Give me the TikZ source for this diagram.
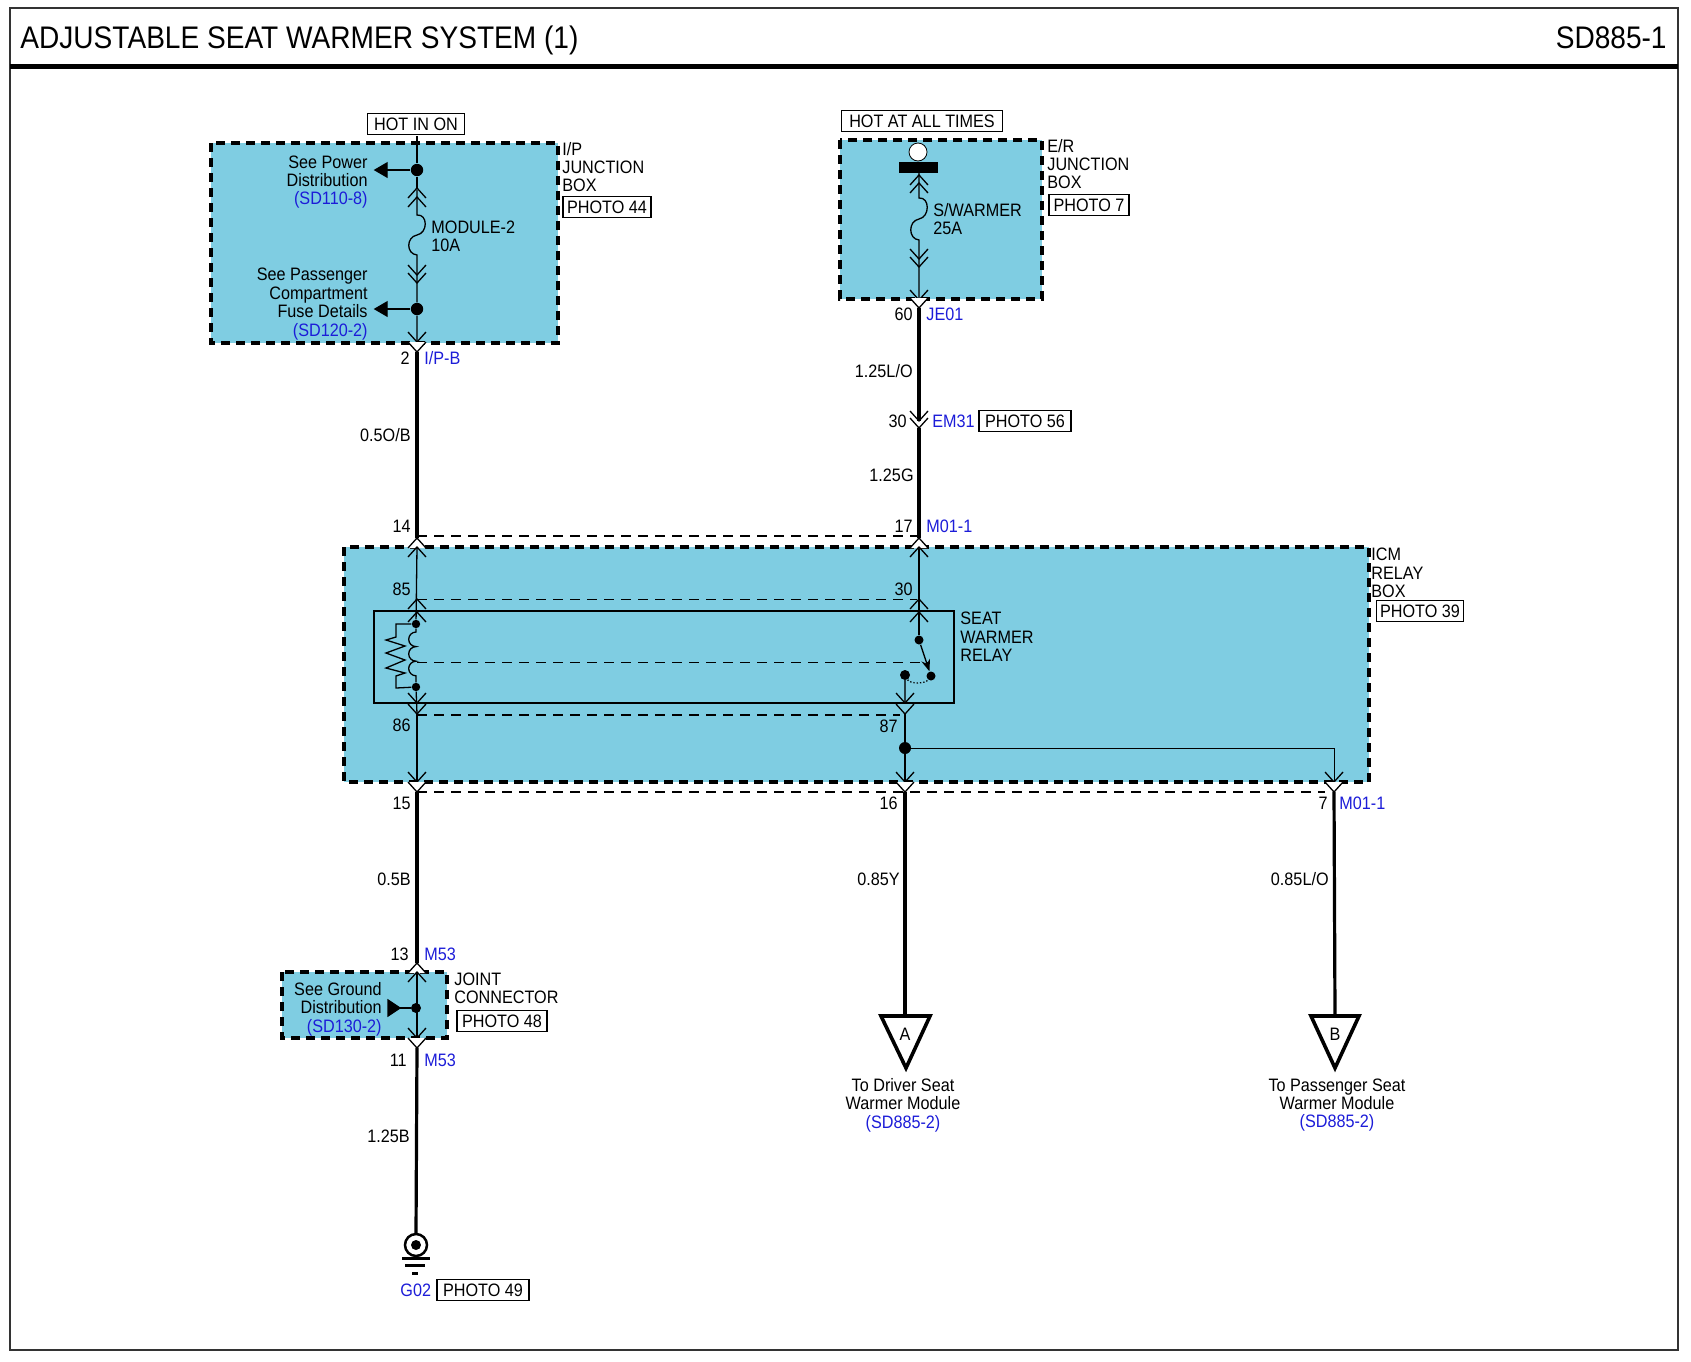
\documentclass[tikz,border=0pt]{standalone}
\usepackage{fontspec}
\setmainfont[FakeStretch=0.9]{Liberation Sans}
\usetikzlibrary{arrows.meta}
\definecolor{boxblue}{HTML}{7FCDE2}
\definecolor{refblue}{HTML}{1C1CD8}
\tikzset{
	wirethin/.style={line width=0.65pt},
	wiremid/.style={line width=1.4pt},
	wirethick/.style={line width=1.6pt},
	wirefat/.style={line width=2.3pt},
	boxdash/.style={fill=boxblue,line width=1.6pt,dash pattern=on 4.5pt off 3pt},
	shieldline/.style={line width=0.7pt,dash pattern=on 5pt off 3.5pt},
	shieldin/.style={line width=0.5pt,dash pattern=on 5pt off 3.5pt},
	lbl/.style={inner sep=0pt,yshift=-0.5pt,font=\fontsize{9}{9.2}\selectfont},
	tagbox/.style={inner sep=0pt,font=\fontsize{9}{9.2}\selectfont,draw,line width=0.7pt,minimum height=10.5pt},
	dotn/.style={circle,fill=black,inner sep=0pt,minimum size=6.2pt}
}
% chevrons of a connector: x, y of the tip
\newcommand{\chevdn}[3][none]{\draw[wirethin,fill=#1] (#2-9,#3-10) -- (#2,#3) -- (#2+9,#3-10);}
\newcommand{\chevup}[3][none]{\draw[wirethin,fill=#1] (#2-9,#3+10) -- (#2,#3) -- (#2+9,#3+10);}
\begin{document}
\begin{tikzpicture}[>=Stealth,x=0.5pt,y=-0.5pt]
	\useasboundingbox (0,0) rectangle (1691,1361);
	% frame and title
	\draw[line width=1pt,black!80] (10,8) rectangle (1678,1350);
	\draw[line width=2.5pt] (10,66) -- (1678,66);
	\node[lbl,font=\fontsize{15.6}{18}\selectfont,anchor=mid west] (title) at (20,42) {ADJUSTABLE SEAT WARMER SYSTEM (1)};
	\node[lbl,font=\fontsize{15.6}{18}\selectfont,anchor=mid east] (sheet) at (1667,42) {SD885-1};
	% blue boxes
	\draw[boxdash] (211,143) rectangle (558,343);
	\draw[boxdash] (840,140) rectangle (1042,299);
	\draw[boxdash] (344,547) rectangle (1369,782);
	\draw[boxdash] (282,972) rectangle (447,1038);
	\draw[line width=1.4pt] (374,611) rectangle (954,703);
	% dashed shields
	\draw[shieldline] (417,536) -- (917,536);
	\draw[shieldin] (417,599) -- (917,599);
	\draw[shieldin] (417,662) -- (928,662);
	\draw[shieldline] (417,715) -- (900,715);
	\draw[shieldline] (417,792) -- (1325,792);
	% points of the wires
	\coordinate (ipTop) at (417,136);
	\coordinate (ipFuseA) at (417,215);
	\coordinate (ipFuseB) at (417,255);
	\coordinate (ipEnd) at (417,342);
	\coordinate (ipOut) at (417,352);
	\coordinate (w14) at (417,538);
	\coordinate (w14b) at (417,547);
	\coordinate (w86) at (417,714);
	\coordinate (w15) at (417,782);
	\coordinate (w15b) at (417,792);
	\coordinate (w13) at (417,963);
	\coordinate (w13b) at (417,972);
	\coordinate (w11) at (417,1038);
	\coordinate (w11b) at (417,1048);
	\coordinate (erTop) at (919,173);
	\coordinate (erFuseA) at (919,198);
	\coordinate (erFuseB) at (919,240);
	\coordinate (erEnd) at (919,299);
	\coordinate (erOut) at (919,308);
	\coordinate (em31a) at (919,421);
	\coordinate (em31b) at (919,428);
	\coordinate (w17) at (919,538);
	\coordinate (w17b) at (919,547);
	\coordinate (w87) at (905,703);
	\coordinate (w87b) at (905,714);
	\coordinate (w16) at (905,782);
	\coordinate (w16b) at (905,792);
	\coordinate (w7) at (1334,782);
	\coordinate (w7b) at (1334,792);
	\coordinate (w7c) at (1334,748);
	\coordinate (triA) at (905,1016);
	\coordinate (triB) at (1335,1016);
	\coordinate (gnd) at (416,1234);
	% dots
	\node[dotn] (dPow) at (417,170) {};
	\node[dotn] (dFuse) at (417,309) {};
	\node[dotn,minimum size=4.2pt] (dCoilA) at (416,624) {};
	\node[dotn,minimum size=4.2pt] (dCoilB) at (416,687) {};
	\node[dotn,minimum size=4.5pt] (dSwA) at (919,640) {};
	\node[dotn,minimum size=4.5pt] (dSwB) at (931,676) {};
	\node[dotn,minimum size=5pt] (dSwC) at (905,675) {};
	\node[dotn,minimum size=6pt] (dSplit) at (905,748) {};
	\node[dotn,minimum size=5pt] (dGnd) at (416,1008) {};
	% thin wires
	\draw[wirethin] (ipTop) -- (dPow) -- (417,188);
	\draw[wirethin] (417,190) -- (ipFuseA) .. controls (428,214) and (428,233) .. (417,235) .. controls (406,237) and (406,254) .. (ipFuseB) -- (417,283) -- (dFuse) -- (ipEnd);
	\draw[wirethin] (erTop) -- (erFuseA) .. controls (930,197) and (930,217) .. (919,219) .. controls (908,221) and (908,239) .. (erFuseB) -- (erEnd);
	\draw[wirethin] (w14b) -- (dCoilA);
	\draw[wirethin] (dCoilB) -- (w86);
	\draw[wirethin] (w86) -- (w15);
	\draw[wirethin] (w17b) -- (dSwA);
	\draw[line width=0.5pt] (dSplit) -- (w7c) -- (w7);
	\draw[wirethin] (w13b) -- (w11);
	% coil and resistor of the relay
	\draw[wirethin] (dCoilA) -- (416,632) arc[start angle=-90,end angle=-270,radius=7.3] arc[start angle=-90,end angle=-270,radius=7.3] arc[start angle=-90,end angle=-270,radius=7.3] -- (dCoilB);
	\draw[wirethin] (dCoilA) -- (396,624) -- (396,637) -- (386,640) -- (405,646) -- (386,653) -- (405,660) -- (386,668) -- (405,673) -- (396,676) -- (396,688) -- (dCoilB);
	\draw[wirethin,->] (dSwA) -- (dSwB);
	\draw[wirethin,densely dotted] (dSwC) .. controls (910,684) and (925,684) .. (dSwB);
	\draw[wiremid,black!70!boxblue] (dSwC) -- (w87);
	\draw[wiremid] (w87b) -- (dSplit) -- (w16);
	% harness wires
	\draw[wirethick] (ipOut) -- (w14);
	\draw[wirethick] (erOut) -- (em31a);
	\draw[wirethick] (em31b) -- (w17);
	\draw[wirethick] (w15b) -- (w13);
	\draw[wirethick] (w11b) -- (gnd);
	\draw[wirefat] (w16b) -- (triA);
	\draw[wirethick] (w7b) -- (triB);
	% chevrons
	\foreach \a/\b in {417/188,417/197,919/175,919/183,417/612,919/612,417/599,919/599}
		{\chevup{\a}{\b}}
	\foreach \a/\b in {417/275,417/283,919/259,919/267,417/703,905/703,417/714,905/714,417/342,919/300,417/782,905/782,1334/782,417/1038,919/421,919/428}
		{\chevdn{\a}{\b}}
	\foreach \a/\b in {417/352,919/308,417/792,905/792,1334/792,417/1048}
		{\chevdn[white]{\a}{\b}}
	\foreach \a/\b in {417/538,919/538,417/963}
		{\chevup[white]{\a}{\b}}
	\foreach \a/\b in {417/547,919/547,417/972}
		{\chevup{\a}{\b}}
	% arrows to other sheets
	\draw[wirethin,fill=black] (375,170) -- (387,163) -- (387,177) -- cycle;
	\draw[wirethin] (387,170) -- (dPow);
	\draw[wirethin,fill=black] (375,309) -- (387,302) -- (387,316) -- cycle;
	\draw[wirethin] (387,309) -- (dFuse);
	\draw[wirethin,fill=black] (400,1008) -- (388,1000) -- (388,1016) -- cycle;
	\draw[wiremid] (400,1008) -- (dGnd);
	% fuse holder of the E/R box
	\draw[fill=white,line width=0.4pt] (918,152) circle[radius=9];
	\fill (899,162) rectangle (938,173);
	% triangles
	\draw[line width=1.8pt,line join=miter] (881,1016) -- (930,1016) -- (906,1068) -- cycle;
	\draw[line width=1.8pt,line join=miter] (1311,1016) -- (1359,1016) -- (1335,1068) -- cycle;
	\node[lbl] (letA) at (905,1033) {A};
	\node[lbl] (letB) at (1335,1033) {B};
	% ground
	\draw[line width=1.25pt,fill=white] (416,1245) circle[radius=11];
	\fill (416,1245) circle[radius=5];
	\draw[line width=1.5pt] (402,1258) -- (430,1258);
	\draw[line width=1.5pt] (405,1265) -- (425,1265);
	\draw[line width=1.5pt] (412,1273) -- (418,1273);
	% boxed tags
	\foreach \nm/\cx/\cy/\bw/\txt in {hotOn/416/124/48.5/HOT IN ON,hotAll/922/121/80.5/HOT AT ALL TIMES,ph44/607/207/44/PHOTO 44,ph7/1089/205/40/PHOTO 7,ph56/1025/421/46/PHOTO 56,ph39/1420/611/43.5/PHOTO 39,ph48/502/1021/45/PHOTO 48,ph49/483/1290/46/PHOTO 49}
		{\node[tagbox,fill=white,minimum width=\bw pt] (\nm) at (\cx,\cy) {\txt};}
	% pins and wire colours
	\foreach \nm/\cx/\cy/\txt in {p2/410/358/2,p60/913/314/60,lbA/913/371/{1.25L/O},p30/907/421/30,lbB/914/475/1.25G,lbC/411/435/{0.5O/B},p14/411/526/14,p17/913/526/17,p85/411/589/85,pb30/913/589/30,p86/411/725/86,p87/898/726/87,p15/411/803/15,p16/898/803/16,p7/1328/803/7,lbD/411/879/0.5B,lbE/900/879/0.85Y,lbF/1329/879/{0.85L/O},p13/409/954/13,p11/407/1060/11,lbG/410/1136/1.25B}
		{\node[lbl,anchor=mid east] (\nm) at (\cx,\cy) {\txt};}
	% connector names
	\foreach \nm/\cx/\cy/\txt in {cIP/424/358/{I/P-B},cJE/926/314/JE01,cEM/932/421/EM31,cMa/926/526/M01-1,cMb/1339/803/M01-1,cMc/424/954/M53,cMd/424/1060/M53,cG/400/1290/G02}
		{\node[lbl,anchor=mid west,text=refblue] (\nm) at (\cx,\cy) {\txt};}
	% box names and notes
	\node[lbl,anchor=west,align=left] (nIP) at (562,166) {I/P\\JUNCTION\\BOX};
	\node[lbl,anchor=west,align=left] (nER) at (1047,163) {E/R\\JUNCTION\\BOX};
	\node[lbl,anchor=west,align=left] (nICM) at (1371,572) {ICM\\RELAY\\BOX};
	\node[lbl,anchor=west,align=left] (nJC) at (454,987) {JOINT\\CONNECTOR};
	\node[lbl,anchor=west,align=left] (nRel) at (960,636) {SEAT\\WARMER\\RELAY};
	\node[lbl,anchor=west,align=left] (nF1) at (431,235) {MODULE-2\\10A};
	\node[lbl,anchor=west,align=left] (nF2) at (933,218) {S/WARMER\\25A};
	\node[lbl,anchor=east,align=right] (nPow) at (368,181) {See Power\\Distribution\\\textcolor{refblue}{(SD110-8)}};
	\node[lbl,anchor=east,align=right] (nFuse) at (368,303) {See Passenger\\Compartment\\Fuse Details\\\textcolor{refblue}{(SD120-2)}};
	\node[lbl,anchor=east,align=right] (nGnd) at (382,1008) {See Ground\\Distribution\\\textcolor{refblue}{(SD130-2)}};
	\node[lbl,align=center] (nA) at (903,1104) {To Driver Seat\\Warmer Module\\\textcolor{refblue}{(SD885-2)}};
	\node[lbl,align=center] (nB) at (1337,1104) {To Passenger Seat\\Warmer Module\\\textcolor{refblue}{(SD885-2)}};
\end{tikzpicture}
\end{document}
